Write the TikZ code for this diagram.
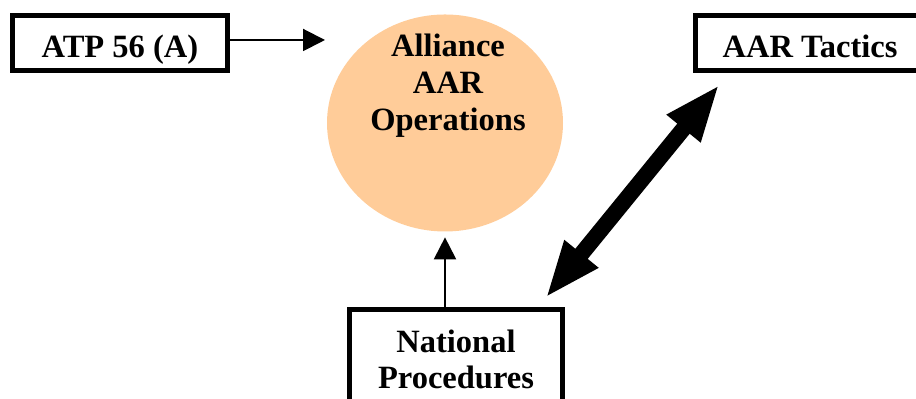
\documentclass[tikz,border=0pt]{standalone}
\usepackage{fontspec}
\setmainfont{Liberation Serif}
\usepackage{tikz}
\usetikzlibrary{arrows.meta}
\usetikzlibrary{shapes.geometric}
\definecolor{peach}{HTML}{FFCC99}
\tikzset{every edge/.style={draw},
  doc/.style={draw, line width=1mm, inner sep=0pt, font=\bfseries\fontsize{18.5}{21}\selectfont},
  title/.style={align=center, inner sep=0pt, font=\bfseries\fontsize{18.5}{21}\selectfont},
  feed/.style={-{Triangle[length=4.4mm, width=4.4mm]}, line width=0.4mm},
  link/.style={{Triangle[length=11.4mm, width=7.9mm]}-{Triangle[length=11.4mm, width=7.9mm]}, line width=3.2mm}}

\begin{document}
\begin{tikzpicture}[scale=1]       % AAR doctrine
    \useasboundingbox (0, 0) rectangle (18.32, 7.98);
    \node[ellipse, fill=peach, minimum width=4.72cm, minimum height=4.34cm] at (8.9, 5.52) (ops) {};
    \node[title, anchor=north] at (8.96, 7.3) (opstext) {Alliance\\AAR\\Operations};
    \node[doc, minimum width=4.3cm, minimum height=1.1cm, text height=0.8cm, text depth=0.2cm] at (2.4, 7.12) (atp) {ATP 56 (A)};
    \node[doc, minimum width=4.58cm, minimum height=1.1cm, text height=0.8cm, text depth=0.2cm] at (16.2, 7.12) (tactics) {AAR Tactics};
    \node[doc, title, anchor=north, minimum width=4.26cm, inner ysep=0.39cm] at (9.12, 1.83) (nat) {National\\Procedures};
    \coordinate (atpend) at (6.5, 7.18);

    \draw (atp.east |- atpend) edge[feed] (atpend);
    \draw (nat.north -| ops.south) edge[feed, shorten >=1.1mm] (ops.south);
    \draw ([xshift=-0.39cm, yshift=0.19cm]nat.north east) edge[link] ([xshift=0.53cm, yshift=-0.23cm]tactics.south west);
\end{tikzpicture}
\end{document}
